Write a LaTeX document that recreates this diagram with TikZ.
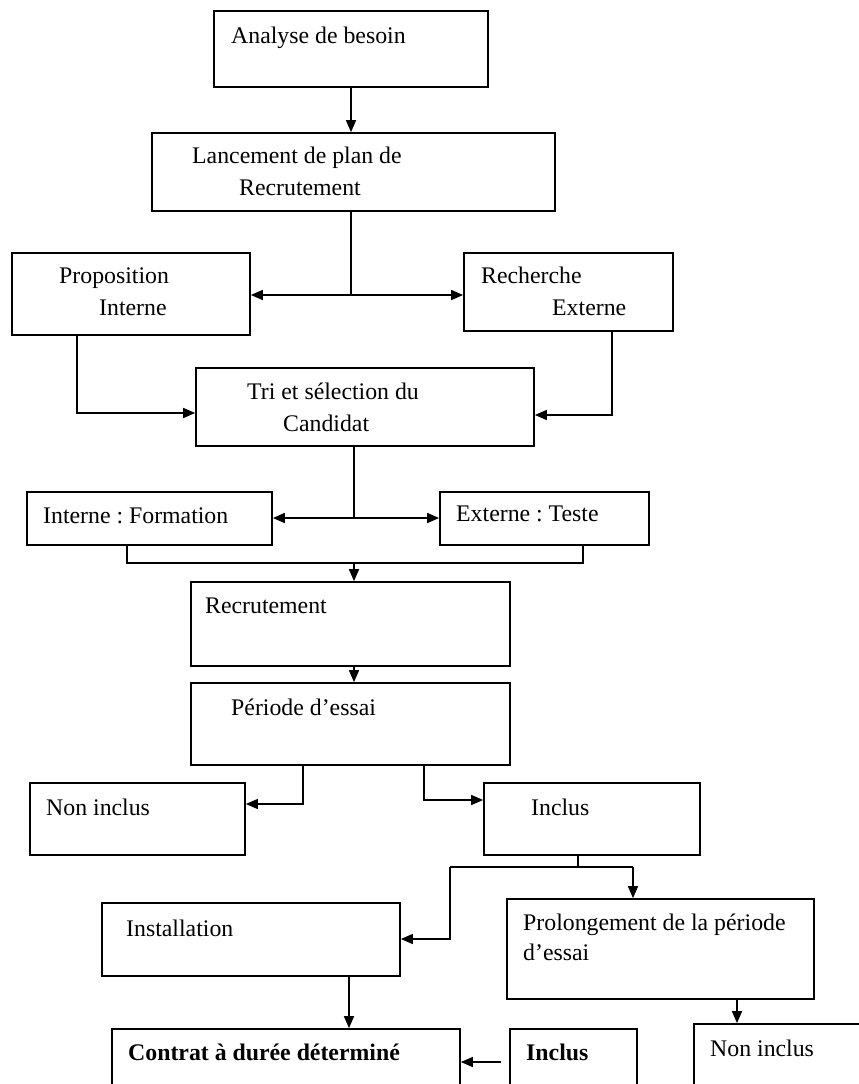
\documentclass[tikz,border=0pt]{standalone}
\usepackage{fontspec}
\setmainfont{Liberation Serif}
\usetikzlibrary{arrows.meta,calc}
\frenchspacing
\begin{document}
\begin{tikzpicture}[x=1pt,y=-1pt,
  box/.style={draw=black,line width=1.7pt,rectangle,inner sep=0pt},
  txt/.style={anchor=base west,inner sep=0pt,font=\fontsize{23.8}{28}\selectfont},
  btxt/.style={txt,font=\fontsize{23.8}{28}\selectfont\bfseries},
  ln/.style={line width=1.5pt},
  arr/.style={line width=1.5pt,-{Triangle[length=12pt,width=10pt]}}]
\useasboundingbox (0,0) rectangle (859,1084);
\clip (0,0) rectangle (859,1084);
\fill[white] (0,0) rectangle (859,1084);
% boxes
\node[box,minimum width=274pt,minimum height=76pt] (ana) at (351,49) {};
\node[box,minimum width=403pt,minimum height=78pt] (lan) at (353.5,172) {};
\node[box,minimum width=238pt,minimum height=82pt] (pro) at (131,294) {};
\node[box,minimum width=209pt,minimum height=78pt] (rec) at (568.5,292) {};
\node[box,minimum width=338pt,minimum height=78pt] (tri) at (365,407) {};
\node[box,minimum width=245pt,minimum height=53pt] (inf) at (149.5,518.5) {};
\node[box,minimum width=209pt,minimum height=53pt] (ext) at (544.5,518.5) {};
\node[box,minimum width=319pt,minimum height=84pt] (recr) at (350.5,624) {};
\node[box,minimum width=319pt,minimum height=82pt] (per) at (350.5,724) {};
\node[box,minimum width=215pt,minimum height=72pt] (non1) at (137.5,819) {};
\node[box,minimum width=216pt,minimum height=72pt] (inc1) at (592,819) {};
\node[box,minimum width=298pt,minimum height=73pt] (ins) at (251,939.5) {};
\node[box,minimum width=307pt,minimum height=100pt] (prol) at (660.5,949) {};
\node[box,minimum width=348pt,minimum height=71pt] (con) at (286,1064.5) {};
\node[box,minimum width=127pt,minimum height=71pt] (inc2) at (573.5,1064.5) {};
\node[box,minimum width=186pt,minimum height=76pt] (non2) at (787,1062) {};
% texts
\node[txt] (t1) at (231,43) {Analyse de besoin};
\node[txt] (t2a) at (192,163) {Lancement de plan de};
\node[txt] (t2b) at (239,195) {Recrutement};
\node[txt] (t3a) at (59,283) {Proposition};
\node[txt] (t3b) at (99,315) {Interne};
\node[txt] (t4a) at (481,283) {Recherche};
\node[txt] (t4b) at (552,315) {Externe};
\node[txt] (t5a) at (247,399) {Tri et sélection du};
\node[txt] (t5b) at (283,431) {Candidat};
\node[txt] (t6) at (43,523) {Interne : Formation};
\node[txt] (t7) at (456,521) {Externe : Teste};
\node[txt] (t8) at (205,613) {Recrutement};
\node[txt] (t9) at (231,715) {Période d’essai};
\node[txt] (t10) at (46,815) {Non inclus};
\node[txt] (t11) at (531,815) {Inclus};
\node[txt] (t12) at (126,936) {Installation};
\node[txt] (t13a) at (523,930) {Prolongement de la période};
\node[txt] (t13b) at (523,960) {d’essai};
\node[btxt] (t14) at (128,1060) {Contrat à durée déterminé};
\node[btxt] (t15) at (526,1060) {Inclus};
\node[txt] (t16) at (710,1056) {Non inclus};
% connectors
\draw[arr] (ana.south) -- (ana.south |- lan.north);
\coordinate (s1) at (351,295);
\draw[ln] (lan.south -| s1) -- (s1);
\draw[arr] (s1) -- (s1 -| pro.east);
\draw[arr] (s1) -- (s1 -| rec.west);
\coordinate (p1) at (77,413);
\draw[arr] (pro.south -| p1) -- (p1) -- (p1 -| tri.west);
\coordinate (r1) at (612,415);
\draw[arr] (rec.south -| r1) -- (r1) -- (r1 -| tri.east);
\coordinate (s2) at (354,518);
\draw[ln] (tri.south -| s2) -- (s2);
\draw[arr] (s2) -- (s2 -| inf.east);
\draw[arr] (s2) -- (s2 -| ext.west);
\coordinate (m1) at (127,563);
\coordinate (m2) at (583,563);
\coordinate (m3) at (354,563);
\draw[ln] (inf.south -| m1) -- (m1) -- (m2) -- (ext.south -| m2);
\draw[arr] (m3) -- (m3 |- recr.north);
\draw[arr] (recr.south -| m3) -- (per.north -| m3);
\coordinate (n1) at (303,804);
\draw[arr] (per.south -| n1) -- (n1) -- (n1 -| non1.east);
\coordinate (i1) at (424,800);
\draw[arr] (per.south -| i1) -- (i1) -- (i1 -| inc1.west);
\coordinate (j0) at (578,867);
\coordinate (j1) at (450,867);
\coordinate (j2) at (633,867);
\coordinate (j3) at (450,939);
\draw[ln] (inc1.south -| j0) -- (j0);
\draw[ln] (j1) -- (j2);
\draw[arr] (j2) -- (j2 |- prol.north);
\draw[arr] (j1) -- (j3) -- (j3 -| ins.east);
\draw[arr] (ins.south -| 349,0) -- (con.north -| 349,0);
\coordinate (k1) at (501,1062);
\draw[arr] (k1) -- (k1 -| con.east);
\draw[arr] (prol.south -| 737,0) -- (non2.north -| 737,0);
\end{tikzpicture}
\end{document}
